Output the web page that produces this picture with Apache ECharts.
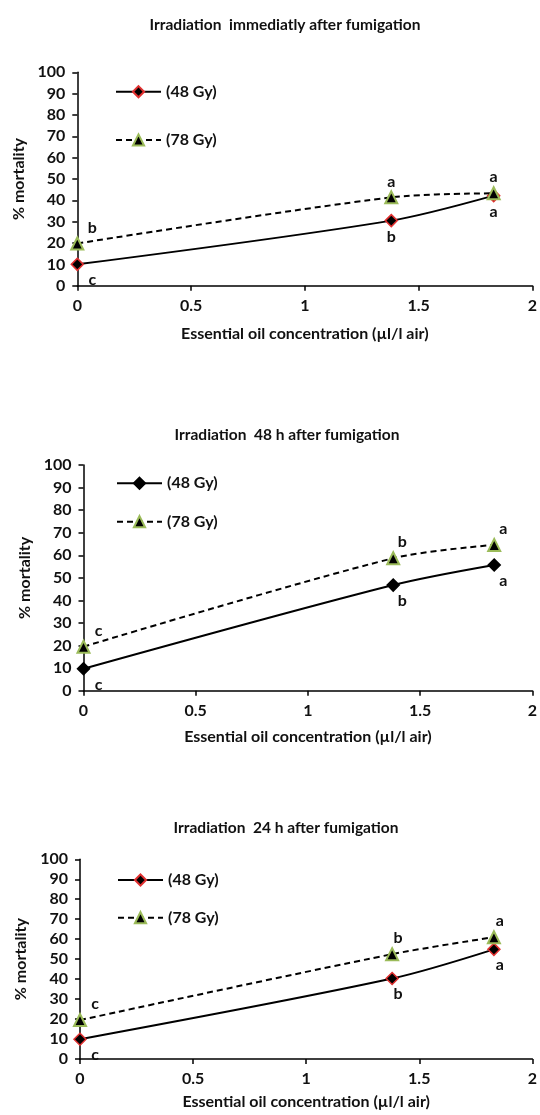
<!DOCTYPE html>
<html>
<head>
<meta charset="utf-8">
<script src="https://cdn.jsdelivr.net/npm/echarts@6/dist/echarts.min.js"></script>
<style>
html,body{margin:0;padding:0;background:#fff;}
.p{position:absolute;left:0;width:540px;}
</style>
</head>
<body>
<div id="c1" class="p" style="top:0;height:380px;"></div>
<div id="c2" class="p" style="top:380px;height:380px;"></div>
<div id="c3" class="p" style="top:760px;height:355px;"></div>
<script>
// ---- data ----
const xValues = [0, 1.38, 1.83];
const seriesNames = ['(48 Gy)', '(78 Gy)'];
const panelTitles = [
  'Irradiation  immediatly after fumigation',
  'Irradiation  48 h after fumigation',
  'Irradiation  24 h after fumigation'
];
const xAxisName = 'Essential oil concentration (\u00b5l/l air)';
const yAxisName = '% mortality';
const xTicks = [0, 0.5, 1, 1.5, 2];
const yTicks = [0, 10, 20, 30, 40, 50, 60, 70, 80, 90, 100];

const p1Gy48 = [10, 30.5, 42.2];
const p1Gy78 = [19.8, 41.4, 43.3];
const p1Gy48Letters = ['c', 'b', 'a'];
const p1Gy78Letters = ['b', 'a', 'a'];

const p2Gy48 = [9.7, 46.8, 55.7];
const p2Gy78 = [19.5, 58.7, 64.6];
const p2Gy48Letters = ['c', 'b', 'a'];
const p2Gy78Letters = ['c', 'b', 'a'];

const p3Gy48 = [9.9, 40.3, 54.9];
const p3Gy78 = [19.5, 52.5, 61];
const p3Gy48Letters = ['c', 'b', 'a'];
const p3Gy78Letters = ['c', 'b', 'a'];

// ---- rendering ----
const FONT = 'Lato';
const TXT = '#111';

function buildSeries(name, ys, letters, isUpper, symbolBorder, midOffset) {
  const data = xValues.map((x, i) => {
    const off = i === 0 ? [15, 0] : [midOffset, 0];
    return {
      value: [x, ys[i]],
      label: {
        show: true,
        formatter: letters[i],
        position: isUpper ? 'top' : 'bottom',
        distance: 1,
        offset: off
      }
    };
  });
  return {
    name: name,
    type: 'line',
    smooth: 0.3,
    symbol: isUpper ? 'triangle' : 'diamond',
    symbolSize: 12,
    data: data,
    lineStyle: {color: '#000', width: 2, type: isUpper ? [6, 4] : 'solid'},
    itemStyle: {color: '#000', borderColor: symbolBorder, borderWidth: isUpper ? 2 : 1.5},
    label: {color: TXT, fontFamily: FONT, fontWeight: 'bold', fontSize: 16},
    z: isUpper ? 3 : 2
  };
}

function makePanel(id, cfg) {
  const chart = echarts.init(document.getElementById(id), null, {renderer: 'canvas'});
  const option = {
    animation: false,
    backgroundColor: '#fff',
    title: {
      text: cfg.title, padding: 0,
      left: cfg.titleX, top: cfg.titleTop, textAlign: 'center',
      textStyle: {fontFamily: FONT, fontWeight: 'bold', fontSize: 15.5, lineHeight: 16, color: TXT}
    },
    legend: {
      orient: 'vertical', padding: 0,
      left: cfg.legendLeft, top: cfg.legendTop,
      itemWidth: 45, itemHeight: 14, itemGap: cfg.legendGap,
      textStyle: {fontFamily: FONT, fontWeight: 'bold', fontSize: 16, lineHeight: 16, color: TXT},
      data: seriesNames
    },
    grid: {left: cfg.gridLeft, right: cfg.gridRight, top: cfg.gridTop, height: cfg.gridHeight, containLabel: false},
    xAxis: {
      type: 'value', min: xTicks[0], max: xTicks[xTicks.length - 1], interval: xTicks[1] - xTicks[0],
      name: xAxisName, nameLocation: 'middle', nameGap: cfg.xNameGap,
      nameTextStyle: {fontFamily: FONT, fontWeight: 'bold', fontSize: 16, color: TXT},
      axisLine: {show: true, lineStyle: {color: '#000', width: 1.5}},
      axisTick: {show: true, length: 5, lineStyle: {color: '#000', width: 1.5}},
      axisLabel: {fontFamily: FONT, fontWeight: 'bold', fontSize: 16, color: TXT, margin: 12},
      splitLine: {show: false}
    },
    yAxis: {
      type: 'value', min: yTicks[0], max: yTicks[yTicks.length - 1], interval: yTicks[1] - yTicks[0],
      name: yAxisName, nameLocation: 'middle', nameRotate: 90, nameGap: cfg.yNameGap,
      nameTextStyle: {fontFamily: FONT, fontWeight: 'bold', fontSize: 16, color: TXT},
      axisLine: {show: true, lineStyle: {color: '#000', width: 1.5}},
      axisTick: {show: true, length: 5, lineStyle: {color: '#000', width: 1.5}},
      axisLabel: {fontFamily: FONT, fontWeight: 'bold', fontSize: 16, color: TXT, margin: 12},
      splitLine: {show: false}
    },
    series: [
      buildSeries(seriesNames[0], cfg.y48, cfg.l48, false, cfg.diamondBorder, cfg.midOffset),
      buildSeries(seriesNames[1], cfg.y78, cfg.l78, true, '#9bbb59', cfg.midOffset)
    ]
  };
  chart.setOption(option);
}

makePanel('c1', {
  title: panelTitles[0], titleX: 285, titleTop: 17,
  legendLeft: 115, legendTop: 83.7, legendGap: 32.3,
  gridLeft: 77.3, gridRight: 5.7, gridTop: 72.3, gridHeight: 213.4,
  xNameGap: 40, yNameGap: 45.6,
  y48: p1Gy48, y78: p1Gy78, l48: p1Gy48Letters, l78: p1Gy78Letters,
  diamondBorder: '#e03030', midOffset: 0
});
makePanel('c2', {
  title: panelTitles[1], titleX: 287, titleTop: 47,
  legendLeft: 116, legendTop: 95.3, legendGap: 22.4,
  gridLeft: 83.5, gridRight: 1.7, gridTop: 85, gridHeight: 225.7,
  xNameGap: 38, yNameGap: 45.2,
  y48: p2Gy48, y78: p2Gy78, l48: p2Gy48Letters, l78: p2Gy78Letters,
  diamondBorder: '#000', midOffset: 9
});
makePanel('c3', {
  title: panelTitles[2], titleX: 286, titleTop: 60,
  legendLeft: 117, legendTop: 112, legendGap: 21.7,
  gridLeft: 80, gridRight: 5.7, gridTop: 99.3, gridHeight: 205,
  xNameGap: 35, yNameGap: 47.7,
  y48: p3Gy48, y78: p3Gy78, l48: p3Gy48Letters, l78: p3Gy78Letters,
  diamondBorder: '#e03030', midOffset: 6
});
</script>
</body>
</html>
